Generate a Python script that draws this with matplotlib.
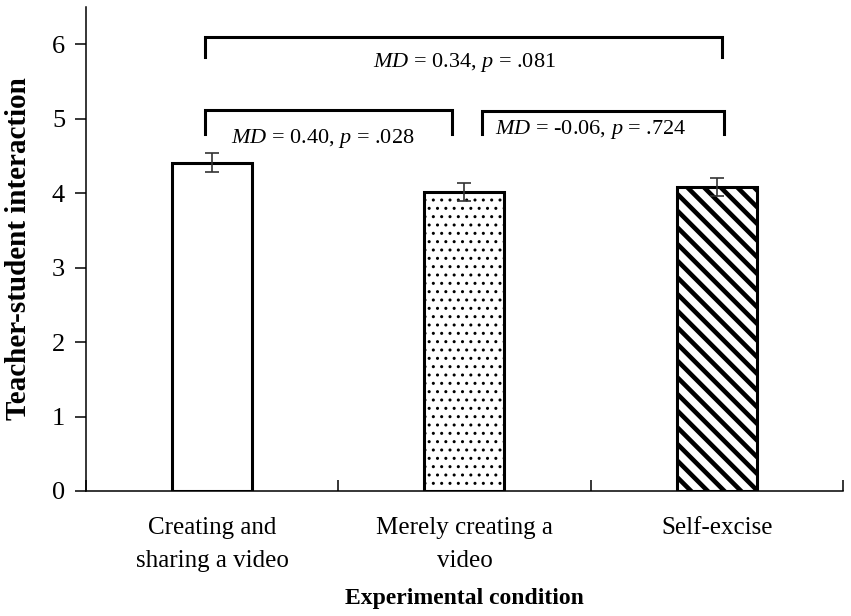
import matplotlib
matplotlib.use("Agg")
import matplotlib.pyplot as plt

plt.rcParams['font.family'] = ['Liberation Serif', 'DejaVu Serif']
plt.rcParams['mathtext.fontset'] = 'custom'
plt.rcParams['mathtext.rm'] = 'Liberation Serif'
plt.rcParams['mathtext.it'] = 'Liberation Serif:italic'

categories = ["Creating and\nsharing a video", "Merely creating a\nvideo", "Self-excise"]
means = [4.41, 4.02, 4.08]
errors = [0.13, 0.12, 0.12]
hatches = ['', '..', '\\\\']
comparisons = [  # (left idx, right idx, label)
    (0, 1, "$MD$ = 0.40, $p$ = .028"),
    (1, 2, "$MD$ = -0.06, $p$ = .724"),
    (0, 2, "$MD$ = 0.34, $p$ = .081"),
]
yticks = [0, 1, 2, 3, 4, 5, 6]

fig = plt.figure(figsize=(8.51, 6.16), dpi=100)
ax = fig.add_axes([0.101, 0.203, 0.8896, 0.7856])

x = list(range(len(categories)))
bars = ax.bar(x, means, width=0.317, color='white', edgecolor='black', linewidth=2.2, zorder=2)
for b, h in zip(bars, hatches):
    b.set_hatch(h)
    if hasattr(b, 'set_hatch_linewidth'):
        b.set_hatch_linewidth(3.3 if '\\' in h else 1.0)
ax.errorbar(x, means, yerr=errors, fmt='none', ecolor='#333333', elinewidth=1.2,
            capsize=5, capthick=1.2, zorder=3)

# brackets
def bracket(x0, x1, ytop, ybot, label, tx, ty):
    ax.plot([x0, x0, x1, x1], [ybot, ytop, ytop, ybot], color='black', lw=2.2,
            solid_joinstyle='miter', clip_on=False)
    ax.text(tx, ty, label, ha='center', va='center', fontsize=16)

bracket(-0.03, 0.95, 5.12, 4.80, comparisons[0][2], 0.44, 4.74)
bracket(1.07, 2.03, 5.10, 4.80, comparisons[1][2], 1.50, 4.85)
bracket(-0.03, 2.02, 6.10, 5.83, comparisons[2][2], 1.00, 5.76)

ax.set_xlim(-0.5, 2.5)
ax.set_ylim(0, 6.5)
ax.set_yticks(yticks)
ax.tick_params(axis='y', direction='out', length=8, width=1.1, labelsize=19, pad=7)

ax.set_xticks([-0.5, 0.5, 1.5, 2.5])
ax.set_xticklabels([])
ax.tick_params(axis='x', which='major', direction='in', length=8, width=1.1)
ax.set_xticks(x, minor=True)
ax.set_xticklabels(categories, minor=True, fontsize=18, linespacing=1.65)
ax.tick_params(axis='x', which='minor', length=0, pad=19)

for s in ['top', 'right']:
    ax.spines[s].set_visible(False)
for s in ['left', 'bottom']:
    ax.spines[s].set_linewidth(1.1)

ax.set_ylabel("Teacher-student interaction", fontsize=21, fontweight='bold')
ax.yaxis.set_label_coords(-0.071, 0.5)
ax.set_xlabel("Experimental condition", fontsize=17, fontweight='bold', va='top')
ax.xaxis.set_label_coords(0.5, -0.2)

fig.savefig("out.png", dpi=100)
